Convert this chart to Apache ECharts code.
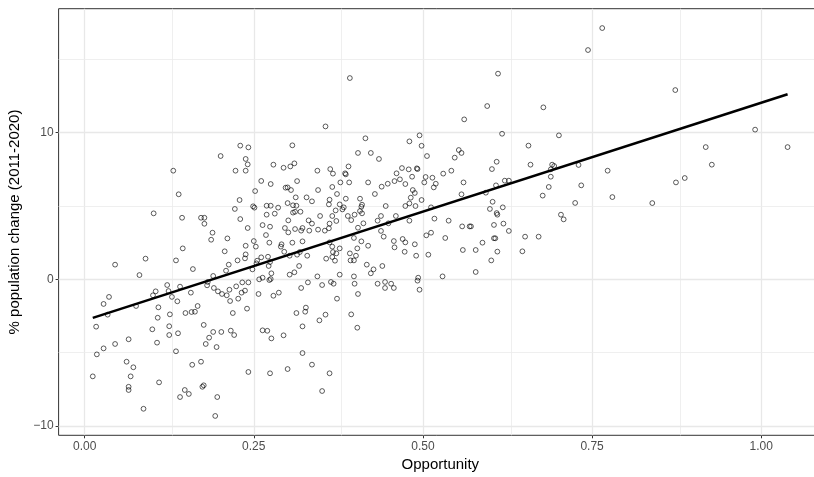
<!DOCTYPE html>
<html>
<head>
<meta charset="utf-8">
<script src="https://cdn.jsdelivr.net/npm/echarts@6/dist/echarts.min.js"></script>
<style>
html,body{margin:0;padding:0;background:#fff;}
#chart{width:814px;height:477px;}
</style>
</head>
<body>
<div id="chart"></div>
<script>
// ---- data ----
const opportunity = [
  // x 0.01 - 0.26, y -4 .. 9
  0.230,0.242,0.201,0.238,0.241,0.223,0.238,0.131,0.261,0.139,0.252,0.229,0.222,0.249,0.251,0.102,0.144,0.172,0.177,0.177,
  0.230,0.241,0.263,0.189,0.187,0.211,0.250,0.253,0.238,0.145,0.207,0.238,0.237,0.226,0.090,0.135,0.045,0.213,0.209,0.160,
  0.081,0.190,0.248,0.255,0.261,0.254,0.263,0.258,0.122,0.141,0.182,0.181,0.191,0.197,0.203,0.210,0.214,0.224,0.233,0.242,
  0.237,0.232,0.227,0.215,0.105,0.124,0.101,0.129,0.137,0.157,0.076,0.036,0.028,0.034,0.109,0.108,0.126,0.149,0.158,0.163,
  0.167,0.219,0.240,0.257,0.017,0.100,0.125,0.125,0.138,0.176,0.190,0.202,0.216,0.221,0.263,0.065,0.184,
  // low left
  0.045,0.018,0.028,0.012,0.062,0.072,0.068,0.065,0.065,0.087,0.110,0.135,0.159,0.172,0.174,0.176,0.148,0.154,0.141,0.196,
  0.193,0.242,0.179,0.195,0.107,
  0.322,0.336,0.300,0.274,0.362,0.351,
  // middle x 0.27 - 0.54
  0.356,0.495,0.307,0.415,0.480,0.498,0.506,0.404,0.423,0.435,0.279,0.294,0.304,0.310,0.344,0.363,0.367,0.385,0.386,0.390,
  0.469,0.479,0.491,0.492,0.530,0.542,0.275,0.314,0.297,0.300,0.305,0.345,0.378,0.391,0.366,0.419,0.439,0.448,0.458,0.466,
  0.474,0.461,0.484,0.504,0.514,0.502,0.519,0.516,0.485,0.488,0.429,0.312,0.328,0.336,0.300,0.362,0.373,0.386,0.407,0.410,
  0.361,0.371,0.377,0.383,0.381,0.269,0.275,0.286,0.308,0.313,0.311,0.319,0.308,0.281,0.269,0.409,0.407,0.366,0.348,0.389,
  0.394,0.399,0.410,0.445,0.474,0.480,0.482,0.489,0.498,0.512,0.438,0.460,0.433,0.449,0.480,0.517,0.538,0.301,0.331,0.336,
  0.274,0.296,0.311,0.322,0.332,0.345,0.355,0.320,0.301,0.268,0.362,0.372,0.361,0.404,0.412,0.438,0.442,0.398,0.409,0.419,
  0.457,0.458,0.470,0.474,0.473,0.488,0.490,0.508,0.505,0.512,0.533,0.273,0.291,0.290,0.307,0.322,0.295,0.303,0.314,0.318,
  0.329,0.362,0.366,0.367,0.377,0.372,0.357,0.366,0.370,0.392,0.393,0.398,0.401,0.403,0.271,0.274,0.272,0.303,0.310,0.317,
  0.276,0.275,0.273,0.344,0.330,0.351,0.364,0.368,0.377,0.398,0.399,0.404,0.417,0.427,0.423,0.440,0.433,0.444,0.453,0.444,
  0.457,0.493,0.492,0.495,0.529,0.320,0.279,0.287,0.373,0.313,0.327,0.326,0.347,0.356,0.394,0.403,0.322,0.270,0.294,0.276,
  // right x 0.54 - 0.78
  0.611,0.595,0.561,0.678,0.617,0.701,0.656,0.553,0.557,0.547,0.609,0.602,0.659,0.691,0.694,0.689,0.730,0.773,0.560,0.608,
  0.621,0.627,0.689,0.686,0.734,0.557,0.593,0.677,0.780,0.725,0.603,0.599,0.618,0.609,0.610,0.558,0.569,0.571,0.605,0.619,
  0.627,0.704,0.708,0.651,0.671,0.588,0.605,0.607,0.559,0.578,0.610,0.647,0.601,0.578,
  // far right and top
  0.873,0.991,0.918,1.039,0.927,0.874,0.887,0.839,
  0.765,0.744,0.392
];
const popChange = [
  9.12,9.00,8.41,8.21,7.84,7.41,7.41,7.41,6.71,5.80,6.02,5.41,4.80,4.98,4.89,4.50,4.20,4.20,4.20,3.79,
  4.11,3.50,3.70,3.18,2.70,2.79,2.61,2.23,2.29,2.11,1.91,1.70,1.43,1.29,1.41,1.29,1.00,1.00,0.59,0.70,
  0.29,0.23,0.68,1.27,1.50,1.09,0.11,0.00,-0.39,-0.50,-0.18,-0.41,-0.59,-0.82,-1.00,-1.09,-0.71,-0.48,-0.21,-0.21,
  -0.77,-0.91,-1.32,-1.48,-0.82,-0.80,-1.09,-1.20,-1.50,-0.91,-1.82,-1.20,-1.68,-2.41,-1.91,-2.62,-2.39,-2.30,-2.23,-2.21,
  -1.82,-2.30,-2.00,-1.00,-3.23,-3.41,-3.20,-3.80,-3.68,-3.11,-3.59,-3.59,-3.50,-3.80,-3.48,-4.09,-3.98,
  -4.41,-5.12,-4.71,-6.62,-5.62,-6.00,-6.62,-7.33,-7.55,-8.83,-7.03,-4.91,-5.83,-5.62,-7.33,-7.23,-7.55,-7.82,-8.03,-8.03,
  -9.32,-6.32,-4.41,-4.62,-4.32,
  -5.03,-5.82,-6.12,-6.41,-6.41,-7.62,
  10.43,9.82,9.14,9.62,9.41,9.11,8.41,8.62,8.62,8.21,7.82,7.61,7.70,7.91,7.41,7.52,7.21,7.23,7.16,7.70,
  7.59,7.50,7.57,7.52,7.21,7.41,6.50,6.70,6.25,6.27,6.09,6.09,6.61,6.61,6.30,6.61,6.32,6.52,6.70,6.82,
  6.50,7.23,7.00,6.98,6.93,6.61,6.52,6.27,6.09,5.89,5.82,5.59,5.59,5.32,5.20,5.43,5.82,5.50,5.50,5.09,
  5.11,4.70,5.11,4.91,4.77,5.02,5.02,4.89,5.05,5.02,4.61,4.61,4.55,4.48,4.41,4.95,4.66,4.32,4.32,4.32,
  4.04,4.41,4.50,5.00,5.00,5.18,5.57,5.00,5.41,4.91,4.32,4.32,4.00,3.82,4.00,4.14,4.00,4.02,4.02,3.80,
  3.59,3.50,3.43,3.50,3.32,3.39,3.32,3.32,3.20,3.02,3.80,3.98,3.48,3.52,3.82,3.30,2.91,2.82,2.59,2.29,
  2.61,2.18,2.75,2.52,1.88,2.39,1.61,1.68,3.00,3.18,2.82,2.50,2.39,2.23,2.50,2.59,1.88,1.61,1.68,1.86,
  1.61,2.52,2.23,1.86,2.11,1.77,1.41,1.52,1.27,1.77,1.29,1.29,1.61,2.11,1.54,1.18,0.91,0.32,0.48,0.91,
  0.41,0.02,-0.05,0.20,-0.21,-0.39,-0.18,-0.30,0.32,0.20,-0.30,-1.00,1.00,0.68,0.41,0.91,-0.30,-0.18,-0.30,-0.59,
  -0.59,0.11,-0.09,-0.71,0.20,-0.59,-1.12,-0.91,-1.32,-2.30,-1.93,-2.21,-2.80,-2.41,-2.39,-3.30,-3.21,-3.51,-3.82,-4.03,
  14.03,11.82,10.91,11.73,9.93,9.82,9.12,8.82,8.62,8.30,8.02,7.52,7.82,7.82,7.73,7.50,7.80,7.41,6.61,6.41,
  6.73,6.73,7.00,6.30,6.41,5.80,5.91,5.71,5.61,5.21,5.29,4.80,4.91,4.52,4.41,3.61,3.61,3.61,3.71,3.80,
  3.30,4.41,4.09,2.91,2.91,2.50,2.80,2.80,2.00,2.00,1.89,1.91,1.29,0.50,
  12.91,10.21,9.02,9.02,7.82,6.61,6.91,5.20,
  17.14,15.64,13.73
];
// fitted regression line (ends at the data range)
const fitX = [0.012, 1.039];
const fitY = [-2.63, 12.62];
// axis ticks and grid
const xMajor = [0, 0.25, 0.5, 0.75, 1.0];
const xMinor = [0.125, 0.375, 0.625, 0.875];
const yMajor = [-10, 0, 10];
const yMinor = [-5, 5, 15];

const points = opportunity.map((x, i) => [x, popChange[i]]);
const fitData = fitX.map((x, i) => [x, fitY[i]]);

const gridMarks = [];
xMajor.forEach(v => gridMarks.push({xAxis: v, lineStyle: {color: '#E8E8E8', width: 1.3, type: 'solid'}}));
xMinor.forEach(v => gridMarks.push({xAxis: v, lineStyle: {color: '#EBEBEB', width: 0.8, type: 'solid'}}));
yMajor.forEach(v => gridMarks.push({yAxis: v, lineStyle: {color: '#E8E8E8', width: 1.3, type: 'solid'}}));
yMinor.forEach(v => gridMarks.push({yAxis: v, lineStyle: {color: '#EBEBEB', width: 0.8, type: 'solid'}}));

const tickFont = "'Liberation Sans', Arial, sans-serif";
const chart = echarts.init(document.getElementById('chart'), null, {renderer: 'canvas'});
chart.setOption({
  animation: false,
  backgroundColor: '#ffffff',
  grid: {
    left: 58.6, right: -8.1, top: 8.7, bottom: 41.7,
    show: true, borderColor: '#333333', borderWidth: 1, backgroundColor: 'transparent',
    containLabel: false, outerBoundsMode: 'none'
  },
  xAxis: {
    type: 'value', min: -0.0385, max: 1.09,
    name: 'Opportunity', nameLocation: 'middle', nameGap: 20,
    nameTextStyle: {color: '#000', fontSize: 15, fontFamily: tickFont},
    axisLine: {show: false, onZero: false},
    splitLine: {show: false},
    axisTick: {show: true, customValues: xMajor, length: 3, lineStyle: {color: '#333333', width: 1}},
    axisLabel: {customValues: xMajor, formatter: v => v.toFixed(2), color: '#4D4D4D', fontSize: 12, fontFamily: tickFont, margin: 5}
  },
  yAxis: {
    type: 'value', min: -10.64, max: 18.46,
    name: '% population change (2011-2020)', nameLocation: 'middle', nameRotate: 90, nameGap: 33,
    nameTextStyle: {color: '#000', fontSize: 15, fontFamily: tickFont},
    axisLine: {show: false, onZero: false},
    splitLine: {show: false},
    axisTick: {show: true, customValues: yMajor, length: 3, lineStyle: {color: '#333333', width: 1}},
    axisLabel: {customValues: yMajor, formatter: v => String(v).replace('-', '\u2212'), color: '#4D4D4D', fontSize: 12, fontFamily: tickFont, margin: 5}
  },
  series: [
    {
      type: 'line', data: [], z: 1, silent: true,
      markLine: {silent: true, symbol: ['none', 'none'], label: {show: false}, animation: false, data: gridMarks}
    },
    {
      type: 'scatter', data: points, z: 5, symbol: 'circle', symbolSize: 4.8,
      itemStyle: {color: 'rgba(0,0,0,0)', borderColor: '#000000', borderWidth: 0.8},
      emphasis: {disabled: true}
    },
    {
      type: 'line', data: fitData, z: 6, showSymbol: false, symbol: 'none',
      lineStyle: {color: '#000000', width: 2.6}, emphasis: {disabled: true}
    }
  ]
});
</script>
</body>
</html>
